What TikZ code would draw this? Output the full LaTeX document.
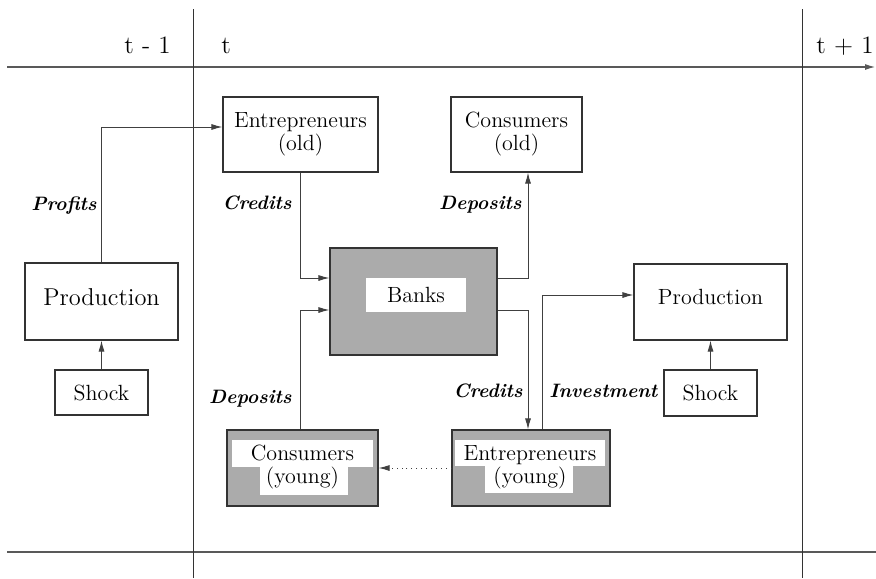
\documentclass[tikz,border=0pt]{standalone}
\usetikzlibrary{arrows.meta,calc}
\begin{document}
\begin{tikzpicture}[x=0.5pt,y=-0.5pt,
  line/.style={draw=black!75,line width=0.45pt},
  arr/.style={line,-{Latex[length=5.5pt,width=3pt]}},
  axis/.style={draw=black!65,line width=0.9pt},
  box/.style={draw=black!80,line width=0.6pt,fill=white,inner sep=0pt},
  shaded/.style={box,fill=black!33},
  txt/.style={font=\fontsize{11}{11.5}\selectfont,align=center,inner sep=0pt},
  flow/.style={font=\fontsize{9.7}{12}\selectfont\bfseries\itshape,inner sep=0pt},
  period/.style={font=\fontsize{12.5}{14}\selectfont,inner sep=0pt}
]
\useasboundingbox (0,0) rectangle (876,578);

% time axis and period separators
\coordinate (axL) at (7,67);
\coordinate (axR) at (876,67);
\coordinate (btL) at (7,552);
\coordinate (btR) at (876,552);
\coordinate (v1t) at (193,9);
\coordinate (v1b) at (193,578);
\coordinate (v2t) at (802,9);
\coordinate (v2b) at (802,578);
\draw[axis,-{Latex[length=5.5pt,width=3pt]}] (axL) -- (axR);
\draw[axis] (btL) -- (btR);
\draw[line,draw=black!80] (v1t) -- (v1b);
\draw[line,draw=black!80] (v2t) -- (v2b);

\node[period,anchor=base east] (tm) at (171,53) {t - 1};
\node[period,anchor=base west] (t0) at (221,53) {t};
\node[period,anchor=base west] (tp) at (816,53) {t + 1};

% boxes
\node[box,minimum width=77.5pt,minimum height=37.5pt] (eo) at (300.5,134.5) {};
\node[txt] (eot) at (eo) {Entrepreneurs\\(old)};
\node[box,minimum width=65.5pt,minimum height=37.5pt] (co) at (516.5,134.5) {};
\node[txt] (cot) at (co) {Consumers\\(old)};

\node[shaded,minimum width=83.5pt,minimum height=53.5pt] (banks) at (413.5,301.5) {};
\node[txt,fill=white,minimum width=50pt,minimum height=17pt] (bankst) at (416,295) {Banks};

\node[box,minimum width=76.5pt,minimum height=38.5pt] (pl) at (101.5,301.5) {};
\node[txt,font=\fontsize{12.2}{14}\selectfont] (plt) at (101.5,297) {Production};
\node[box,minimum width=46.5pt,minimum height=22.5pt] (sl) at (101.5,392.5) {};
\node[txt] (slt) at (sl) {Shock};

\node[box,minimum width=76.5pt,minimum height=38pt] (pr) at (710.5,302) {};
\node[txt] (prt) at (710.5,297) {Production};
\node[box,minimum width=46.5pt,minimum height=23pt] (sr) at (710.5,393) {};
\node[txt] (srt) at (sr) {Shock};

\node[shaded,minimum width=75.5pt,minimum height=38pt] (cy) at (302.5,468) {};
\fill[white] (232,440) rectangle (373,467);
\fill[white] (260,466) rectangle (348,495);
\node[txt] (cyt) at (302.5,467) {Consumers\\(young)};

\node[shaded,minimum width=79pt,minimum height=38pt] (ey) at (531,468) {};
\fill[white] (455,440) rectangle (605,466);
\fill[white] (485,465) rectangle (573,493);
\node[txt] (eyt) at (530,467) {Entrepreneurs\\(young)};

% flows
\draw[arr] (pl.north) |- ($(eo.west)+(0,-7.5)$);
\draw[arr] (eo.south) |- ($(banks.west)+(0,-23.5)$);
\draw[arr] (eo.south |- cy.north) |- ($(banks.west)+(0,8.5)$);
\draw[arr] ($(banks.east)+(0,-23.5)$) -| ($(co.south)+(11.5,0)$);
\draw[arr] ($(banks.east)+(0,8.5)$) -| ($(ey.north)+(-3,0)$);
\draw[arr] ($(ey.north)+(11,0)$) |- ($(pr.west)+(0,-7)$);
\draw[arr] (sl) -- (pl);
\draw[arr] (sr) -- (pr);
\draw[arr,dotted] (ey.west) -- (cy.east);

% flow labels
\node[flow,anchor=base east] (lprof) at (97,210) {Profits};
\node[flow,anchor=base east] (lcred1) at (292,209) {Credits};
\node[flow,anchor=base east] (ldep1) at (522,209) {Deposits};
\node[flow,anchor=base east] (ldep2) at (292,403) {Deposits};
\node[flow,anchor=base east] (lcred2) at (523,397) {Credits};
\node[flow,anchor=base west] (linv) at (549,397) {Investment};
\end{tikzpicture}
\end{document}
